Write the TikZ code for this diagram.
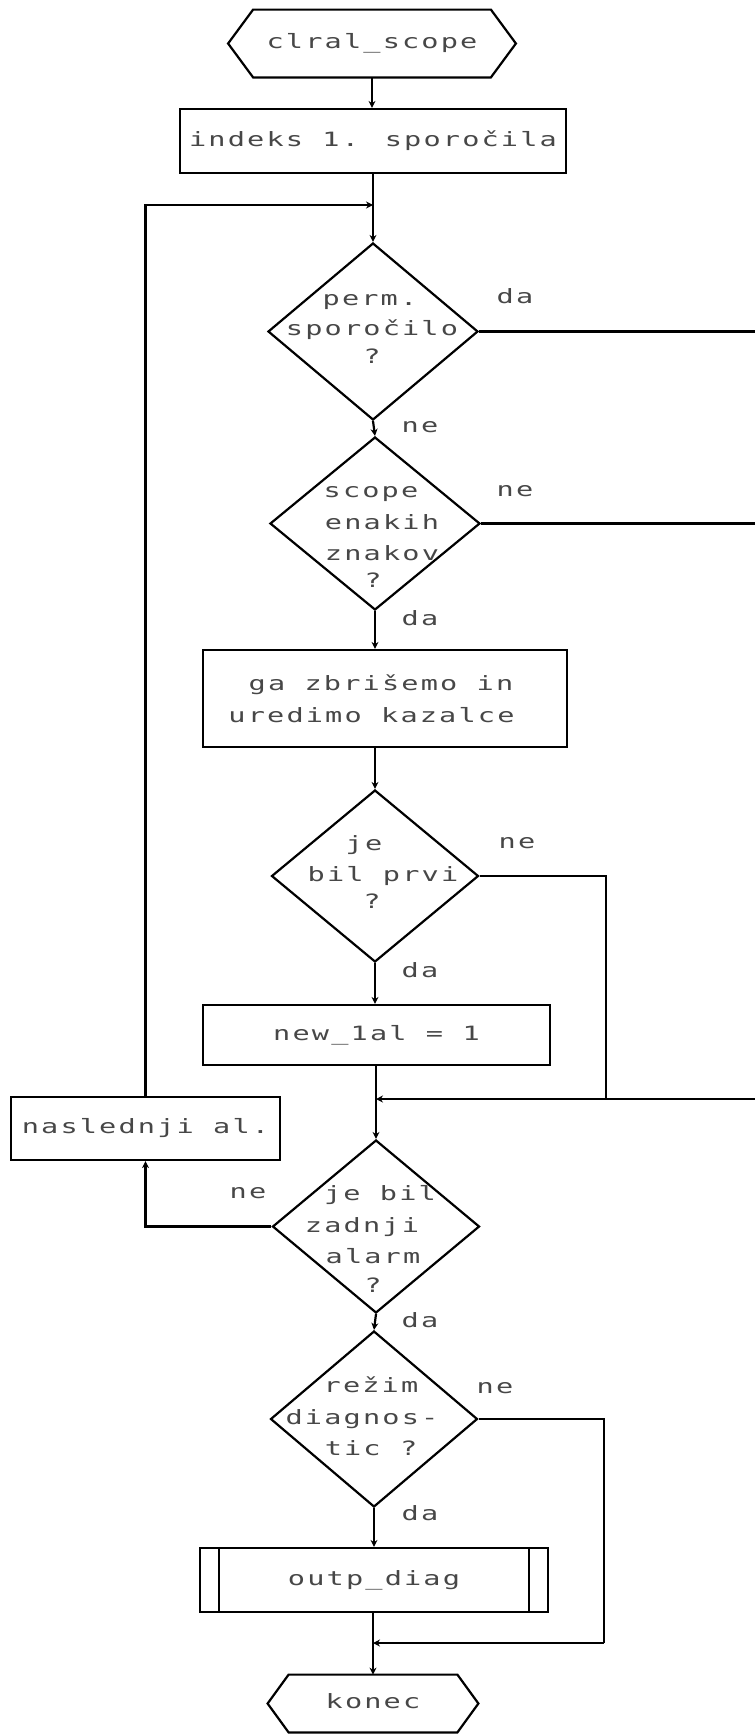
\documentclass[tikz,border=0pt]{standalone}
\usepackage{fontspec}
\usetikzlibrary{shapes.geometric,arrows.meta}
\newfontfamily\plotfont[FakeStretch=1.45,LetterSpace=11]{DejaVu Sans Mono}
\begin{document}
\begin{tikzpicture}[x=0.5pt,y=-0.5pt,
  conn/.style={line width=1.1pt,line join=miter},
  flow/.style={conn,-{Stealth[length=3.5pt,width=3.5pt]}},
  txt/.style={font=\plotfont\fontsize{9.85}{12}\selectfont,text=black!72,
    inner sep=0pt,text height=0.72em,text depth=0.22em},
  box/.style={draw,conn,rectangle,inner sep=0pt,txt,text=black!72},
  dia/.style={draw,conn,diamond,inner sep=0pt},
  term/.style={rectangle,inner sep=0pt,txt}]
\useasboundingbox (0,0) rectangle (755,1735);
\coordinate (redge) at (755,0);

% terminals (hexagonal outline drawn round an invisible node)
\node[term,minimum width=118.5pt,minimum height=33.5pt] (start) at (372,43.5) {clral\_scope};
\draw[conn] (start.north west) -- (start.north east) -- ([xshift=12.5pt]start.east)
  -- (start.south east) -- (start.south west) -- ([xshift=-12.5pt]start.west) -- cycle;

\node[term,minimum width=84pt,minimum height=28.5pt] (end) at (373,1703.5) {konec};
\draw[conn] (end.north west) -- (end.north east) -- ([xshift=10.5pt]end.east)
  -- (end.south east) -- (end.south west) -- ([xshift=-10.5pt]end.west) -- cycle;

% process boxes
\node[box,minimum width=193pt,minimum height=32pt] (indeks) at (373,141) {indeks 1. sporočila};
\node[box,minimum width=182pt,minimum height=48.5pt] (ga) at (385,698.5) {};
\node[txt] (ga1) at (381,685) {ga zbrišemo in};
\node[txt] (ga2) at (371.5,717) {uredimo kazalce};
\node[box,minimum width=173.5pt,minimum height=30pt] (new1al) at (376.5,1035) {new\_1al = 1};
\node[box,minimum width=134.5pt,minimum height=31.5pt] (nasl) at (145.5,1128.5) {naslednji al.};
\node[box,minimum width=174pt,minimum height=32pt] (outp) at (374,1580) {outp\_diag};
\draw[conn] ([xshift=10pt]outp.north west) -- ([xshift=10pt]outp.south west);
\draw[conn] ([xshift=-10pt]outp.north east) -- ([xshift=-10pt]outp.south east);

% decisions
\node[dia,minimum width=105pt,minimum height=88.5pt] (d1) at (373,331.5) {};
\node[txt] (d1a) at (370,300) {perm.};
\node[txt] (d1b) at (372,330) {sporočilo};
\node[txt] (d1c) at (372,358) {?};

\node[dia,minimum width=105pt,minimum height=86.5pt] (d2) at (375,523.5) {};
\node[txt] (d2a) at (371,492) {scope};
\node[txt] (d2b) at (382,524) {enakih};
\node[txt] (d2c) at (382,555) {znakov};
\node[txt] (d2d) at (373,582) {?};

\node[dia,minimum width=103.5pt,minimum height=86pt] (d3) at (375,876) {};
\node[txt] (d3a) at (364,845) {je};
\node[txt] (d3b) at (383,876) {bil prvi};
\node[txt] (d3c) at (372,903) {?};

\node[dia,minimum width=103.5pt,minimum height=86.5pt] (d4) at (376,1226.5) {};
\node[txt] (d4a) at (380,1195) {je bil};
\node[txt] (d4b) at (362,1227) {zadnji};
\node[txt] (d4c) at (373,1258) {alarm};
\node[txt] (d4d) at (373,1287) {?};

\node[dia,minimum width=103.5pt,minimum height=88pt] (d5) at (374,1419) {};
\node[txt] (d5a) at (371,1387) {režim};
\node[txt] (d5b) at (362,1419) {diagnos-};
\node[txt] (d5c) at (371,1450) {tic ?};

% branch labels
\node[txt] (l1) at (515,298) {da};
\node[txt] (l2) at (420,427) {ne};
\node[txt] (l3) at (515,491) {ne};
\node[txt] (l4) at (420,620) {da};
\node[txt] (l5) at (517,843) {ne};
\node[txt] (l6) at (420,972) {da};
\node[txt] (l7) at (248,1193) {ne};
\node[txt] (l8) at (420,1322) {da};
\node[txt] (l9) at (495,1388) {ne};
\node[txt] (l10) at (420,1515) {da};

% junction points
\coordinate (jtop) at (373,205);
\coordinate (jmid) at (606,1099);
\coordinate (jbot) at (604,1643);

% main flow
\draw[flow] (start.south) -- (start.south |- indeks.north);
\draw[flow] (indeks.south) -- (d1.north);
\draw[flow] (d1.south) -- (d2.north);
\draw[flow] (d2.south) -- (d2.south |- ga.north);
\draw[flow] (d3.north |- ga.south) -- (d3.north);
\draw[flow] (d3.south) -- (d3.south |- new1al.north);
\draw[conn] (d4.north |- new1al.south) -- (d4.north |- jmid);
\draw[flow] (d4.north |- jmid) -- (d4.north);
\draw[flow] (d4.south) -- (d5.north);
\draw[flow] (d5.south) -- (d5.south |- outp.north);
\draw[conn] (end.north |- outp.south) -- (end.north |- jbot);
\draw[flow] (end.north |- jbot) -- (end.north);

% side branches
\draw[conn] (d1.east) -- (d1.east -| redge);
\draw[conn] (d2.east) -- (d2.east -| redge);
\draw[conn] (d3.east) -| (jmid);
\draw[flow] (redge |- jmid) -- (d4.north |- jmid);
\draw[flow] (d4.west) -| (nasl.south);
\draw[flow] (nasl.north) |- (jtop);
\draw[conn] (d5.east) -| (jbot);
\draw[flow] (jbot) -- (end.north |- jbot);
\end{tikzpicture}
\end{document}
